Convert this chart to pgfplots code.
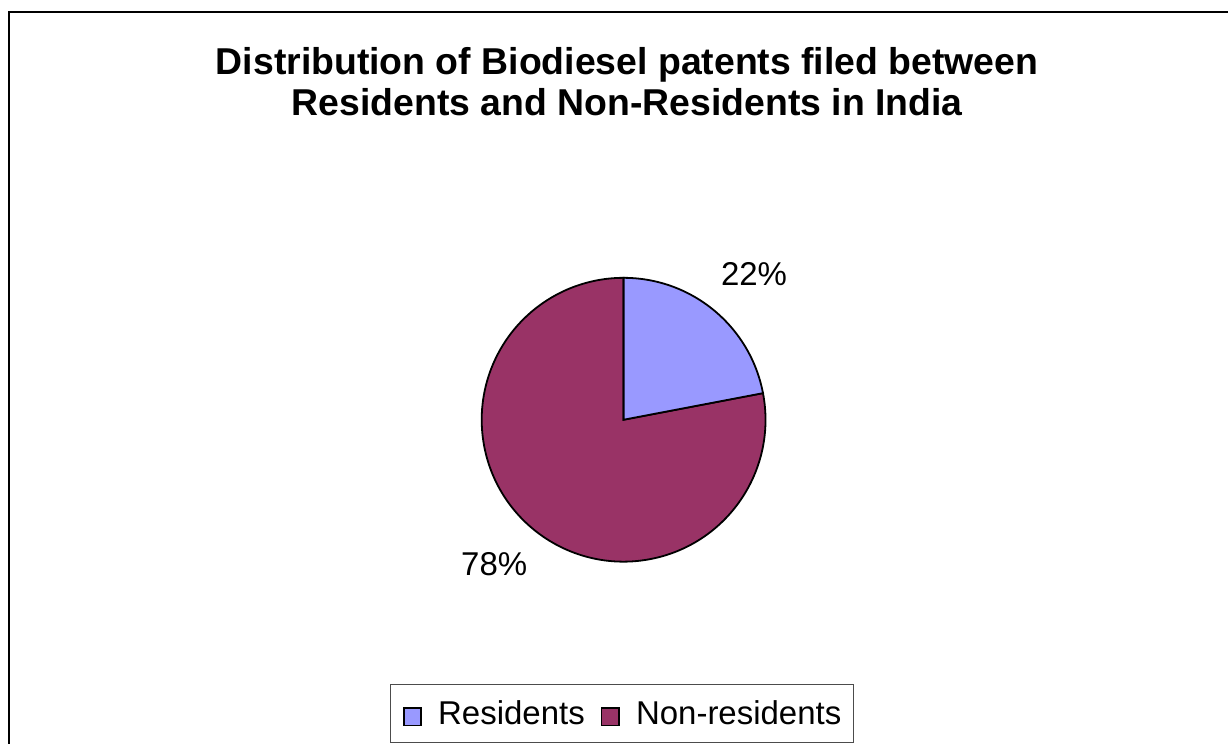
\documentclass[border=0pt]{standalone}
\usepackage{fontspec}
\setmainfont{Liberation Sans}
\usepackage{pgfplots}
\pgfplotsset{compat=1.18}
\definecolor{resBlue}{HTML}{9999FF}
\definecolor{nonPlum}{HTML}{993366}

\begin{document}
\begin{tikzpicture}
% shares in percent
\def\resShare{22}
\def\nonShare{78}
\pgfmathsetmacro{\splitAngle}{90-3.6*\resShare}
\pgfmathsetmacro{\endAngle}{\splitAngle-3.6*\nonShare}
\begin{axis}[
  width=614.5pt, height=372pt, scale only axis,
  xmin=0, xmax=1229, ymin=0, ymax=744, y dir=reverse,
  hide axis, clip=false,
  legend columns=2,
  legend image code/.code={\draw[#1,line width=0.85pt] (0pt,-6pt) rectangle (8.8pt,2.8pt);},
  legend style={
    at={(axis cs:622.5,714)}, anchor=center,
    draw=black!70, line width=0.5pt, fill=white,
    font=\fontsize{16.5pt}{19pt}\selectfont,
    inner xsep=6pt, inner ysep=8pt,
    nodes={inner sep=0pt},
    /tikz/every odd column/.append style={column sep=8pt},
    /tikz/every even column/.append style={column sep=8pt},
  },
]
\path (axis cs:0,0) rectangle (axis cs:1229,744);
% chart frame
\draw[line width=0.8pt] (axis cs:9,744) -- (axis cs:9,12) -- (axis cs:1229,12);

% title
\node[anchor=base, font=\bfseries\fontsize{18.7pt}{19pt}\selectfont] at (axis cs:627.5,75) {Distribution of Biodiesel patents filed between};
\node[anchor=base, font=\bfseries\fontsize{18.7pt}{19pt}\selectfont] at (axis cs:627.5,116) {Residents and Non-Residents in India};

% pie slices
\filldraw[fill=nonPlum, draw=black, line width=0.9pt]
  (axis cs:624,420) -- ++(\splitAngle:71pt) arc[start angle=\splitAngle, end angle=\endAngle, radius=71pt] -- cycle;
\filldraw[fill=resBlue, draw=black, line width=0.9pt]
  (axis cs:624,420) -- ++(90:71pt) arc[start angle=90, end angle=\splitAngle, radius=71pt] -- cycle;

% data labels
\node[font=\fontsize{16.5pt}{19pt}\selectfont] at (axis cs:754.5,274.5) {\resShare\%};
\node[font=\fontsize{16.5pt}{19pt}\selectfont] at (axis cs:494.5,565) {\nonShare\%};

\addlegendimage{fill=resBlue, draw=black}
\addlegendentry{Residents}
\addlegendimage{fill=nonPlum, draw=black}
\addlegendentry{Non-residents}
\end{axis}
\end{tikzpicture}
\end{document}
